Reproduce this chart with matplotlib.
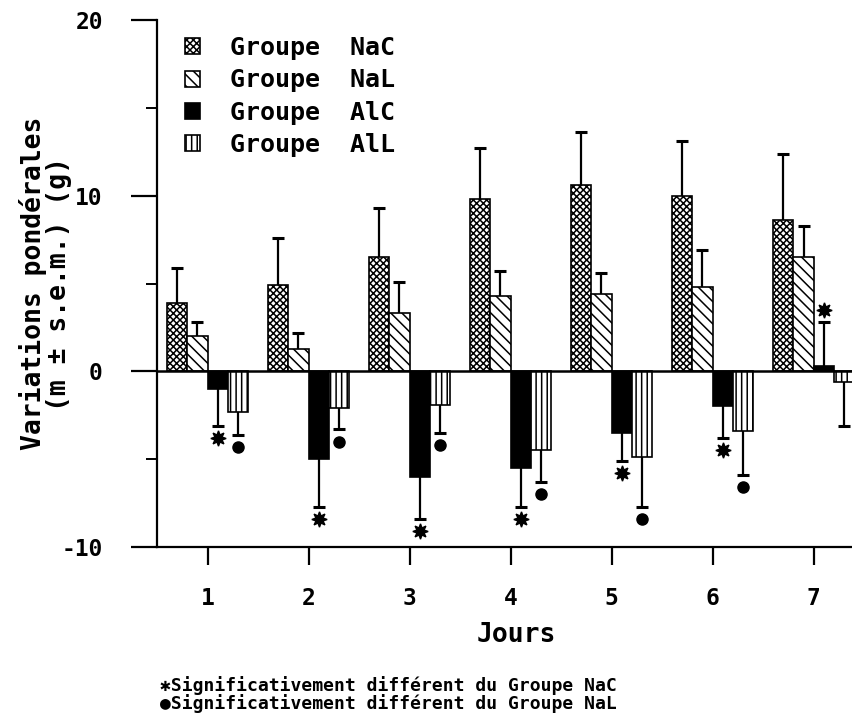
import numpy as np
import matplotlib
matplotlib.use("Agg")
import matplotlib.pyplot as plt

plt.rcParams['font.family'] = ['DejaVu Sans Mono', 'DejaVu Sans']
plt.rcParams['font.weight'] = 'bold'
plt.rcParams['axes.labelweight'] = 'bold'
plt.rcParams['axes.unicode_minus'] = False
plt.rcParams['hatch.linewidth'] = 1.1

jours = [1, 2, 3, 4, 5, 6, 7]
groupes = ["Groupe  NaC", "Groupe  NaL", "Groupe  AlC", "Groupe  AlL"]

# moyennes et s.e.m. (g)
nac = [3.9, 4.9, 6.5, 9.8, 10.6, 10.0, 8.6]
nac_sem = [2.0, 2.7, 2.8, 2.9, 3.0, 3.1, 3.8]
nal = [2.0, 1.3, 3.3, 4.3, 4.4, 4.8, 6.5]
nal_sem = [0.8, 0.9, 1.8, 1.4, 1.2, 2.1, 1.8]
alc = [-1.0, -5.0, -6.0, -5.5, -3.5, -2.0, 0.3]
alc_sem = [2.1, 2.7, 2.4, 2.2, 1.6, 1.8, 2.5]
all_ = [-2.3, -2.1, -1.9, -4.5, -4.9, -3.4, -0.6]
all_sem = [1.3, 1.2, 1.6, 1.8, 2.8, 2.5, 2.5]

# significativite (etoile: vs NaC, point: vs NaL)
alc_sig = [1, 1, 1, 1, 1, 1, 1]
all_sig = [1, 1, 1, 1, 1, 1, 0]

means = [nac, nal, alc, all_]
sems = [nac_sem, nal_sem, alc_sem, all_sem]
sigs = [None, None, alc_sig, all_sig]
sig_markers = [None, None, (8, 1, 0), 'o']
hatches = ['xxxxx', '\\\\\\', None, '|||']
faces = ['white', 'white', 'black', 'white']

fig = plt.figure(figsize=(8.52, 7.16), dpi=100)
ax = fig.add_axes([0.1843, 0.236, 0.8157, 0.736])

x = np.array(jours, dtype=float)
w = 0.2
offsets = [-1.5 * w, -0.5 * w, 0.5 * w, 1.5 * w]

handles = []
for k in range(4):
    m = np.array(means[k])
    s = np.array(sems[k])
    xs = x + offsets[k]
    b = ax.bar(xs, m, width=w, color=faces[k], edgecolor='black',
               linewidth=1.2, hatch=hatches[k], label=groupes[k], zorder=3)
    handles.append(b)
    sign = np.where(m >= 0, 1, -1)
    ends = m + sign * s
    ax.vlines(xs, m, ends, color='black', lw=1.6, zorder=2)
    ax.plot(xs, ends, ls='none', marker='_', ms=9, mew=2.2, color='black', zorder=2)
    if sigs[k] is not None:
        sel = np.array(sigs[k]) == 1
        ax.plot(xs[sel], ends[sel] + sign[sel] * 0.7, ls='none',
                marker=sig_markers[k], ms=11 if k == 2 else 8,
                color='black', zorder=4)

ax.axhline(0, color='black', lw=1.8, zorder=5)

ax.set_xlim(0.5, 7.38)
ax.set_ylim(-10, 20)
ax.set_yticks([-10, 0, 10, 20])
ax.set_yticks([-5, 5, 15], minor=True)
ax.set_xticks(jours)
ax.spines['top'].set_visible(False)
ax.spines['right'].set_visible(False)
for sp in ['left', 'bottom']:
    ax.spines[sp].set_linewidth(1.6)
ax.tick_params(axis='y', which='major', length=19, width=1.6, pad=20, labelsize=16.5)
ax.tick_params(axis='y', which='minor', length=8, width=1.4)
ax.tick_params(axis='x', which='major', length=13, width=1.6, pad=16, labelsize=16.5)

ax.set_ylabel("Variations pondérales\n(m ± s.e.m.) (g)", fontsize=19,
              linespacing=0.98)
ax.yaxis.set_label_coords(-0.122, 0.5)
ax.set_xlabel("Jours", fontsize=19)
ax.xaxis.set_label_coords(0.517, -0.142)

ax.legend(handles=handles, loc='upper left', bbox_to_anchor=(0.008, 1.012),
          frameon=False, prop={'size': 18}, handlelength=0.6, handleheight=0.6,
          handletextpad=1.2, labelspacing=0.33)

fig.text(0.188, 0.043, "✱Significativement différent du Groupe NaC",
         fontsize=13, va='center', ha='left')
fig.text(0.188, 0.018, "●Significativement différent du Groupe NaL",
         fontsize=13, va='center', ha='left')

fig.savefig("out.png", dpi=100)
